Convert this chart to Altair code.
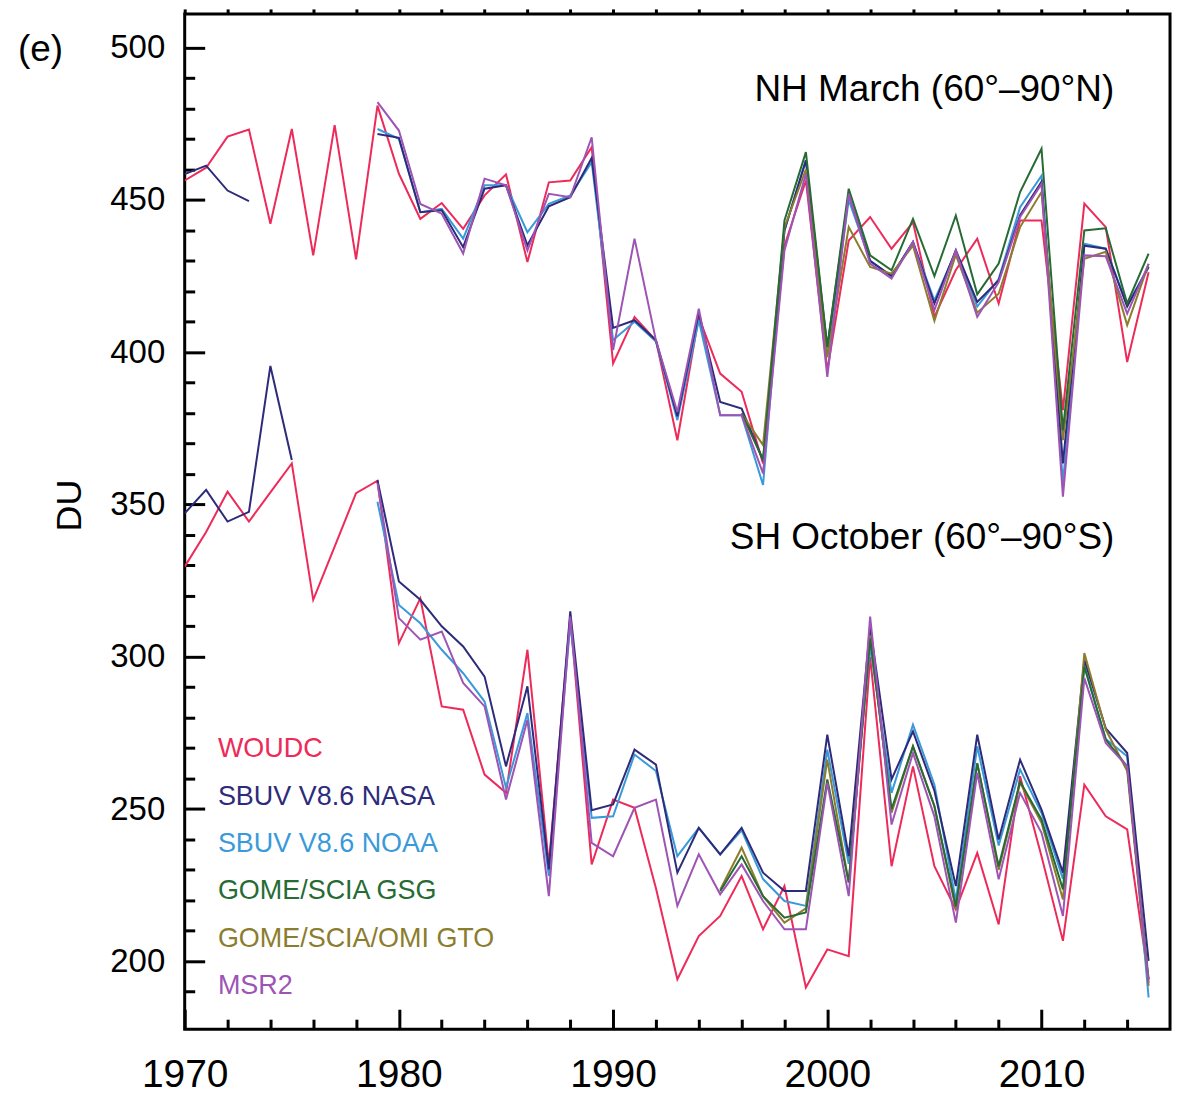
import altair as alt
import pandas as pd

# ---------------- data ----------------
SERIES = ["WOUDC", "SBUV V8.6 NASA", "SBUV V8.6 NOAA", "GOME/SCIA GSG",
          "GOME/SCIA/OMI GTO", "MSR2"]
COLORS = ["#ee2a5a", "#2e2b7a", "#3a9ad9", "#266b34", "#8c7d2e", "#9d54b4"]

# NH March (60-90N)
woudc_nh_start = 1970
woudc_nh = [456.4, 460.6, 470.8, 473.1, 442.2, 473.3, 431.8, 474.6, 430.5, 481.0,
            458.6, 443.8, 449.0, 440.5, 451.5, 458.4, 429.6, 455.8, 456.4, 467.3,
            396.3, 411.6, 403.9, 371.1, 411.6, 393.0, 387.0, 363.5, 435.0, 456.4,
            394.0, 436.7, 444.4, 434.0, 442.7, 411.6, 427.0, 437.3, 416.0, 443.3,
            443.3, 381.0, 448.8, 441.1, 396.8, 426.3]
nasa_nh_early_start = 1970
nasa_nh_early = [458.5, 461.3, 453.1, 449.6]
nasa_nh_start = 1979
nasa_nh = [471.7, 470.4, 446.0, 446.6, 434.5, 453.7, 454.8, 435.1, 447.9, 450.9, 463.8,
           408.0, 410.5, 403.9, 379.0, 413.0, 383.7, 381.5, 364.6, 440.0, 463.0,
           401.7, 452.0, 430.0, 425.0, 436.2, 416.0, 433.5, 416.5, 423.6, 445.0,
           456.0, 363.5, 435.0, 434.0, 415.0, 428.0]
noaa_nh_start = 1979
noaa_nh = [473.3, 470.1, 446.0, 447.1, 437.3, 454.8, 454.8, 439.4, 448.7, 451.5, 462.4,
           404.0, 410.0, 403.5, 377.7, 410.5, 379.3, 379.3, 356.4, 440.0, 463.0,
           398.4, 450.0, 430.0, 425.0, 436.2, 417.0, 433.0, 415.0, 424.0, 447.6,
           458.0, 357.0, 435.6, 434.0, 415.5, 428.0]
gsg_nh_start = 1996
gsg_nh = [379.9, 364.6, 443.3, 465.7, 401.7, 453.7, 431.8, 426.9, 443.8, 425.0,
          444.9, 419.0, 429.1, 452.6, 466.8, 374.4, 440.0, 440.7, 416.0, 432.4]
gto_nh_start = 1996
gto_nh = [379.9, 369.5, 441.0, 460.0, 398.4, 441.1, 428.0, 425.8, 435.0, 410.3,
          432.0, 413.0, 419.2, 441.1, 452.6, 371.1, 430.7, 433.0, 408.9, 429.0]
msr2_nh_start = 1979
msr2_nh = [482.1, 472.8, 448.7, 445.5, 432.4, 457.0, 454.8, 433.4, 452.0, 450.9, 470.6,
           400.7, 437.3, 403.9, 380.4, 414.3, 379.3, 379.3, 360.2, 433.4, 458.6,
           391.9, 452.0, 429.1, 424.2, 436.2, 413.8, 433.4, 411.6, 423.0, 444.4,
           455.3, 352.6, 431.8, 431.5, 412.7, 429.0]

# SH October (60-90S)
woudc_sh_start = 1970
woudc_sh = [329.6, 341.0, 354.2, 344.4, 354.0, 363.5, 318.7, 336.2, 353.7, 357.8,
            304.5, 319.2, 283.7, 282.6, 261.3, 255.3, 302.3, 231.8, 313.0, 231.8,
            253.1, 250.4, 224.0, 194.1, 208.3, 214.9, 228.0, 210.5, 224.7, 191.4,
            203.9, 201.7, 300.0, 231.2, 264.0, 231.2, 217.0, 235.6, 212.1, 260.8,
            234.5, 206.7, 258.0, 247.6, 243.3, 194.1]
nasa_sh_early_start = 1970
nasa_sh_early = [347.1, 354.8, 344.4, 347.6, 395.5, 364.6]
nasa_sh_start = 1979
nasa_sh = [358.0, 324.7, 318.7, 310.0, 303.4, 293.5, 264.0, 290.3, 230.2, 314.9, 249.6,
           251.5, 269.5, 264.6, 229.1, 243.8, 235.1, 243.8, 229.1, 223.1, 223.1,
           274.4, 234.5, 310.0, 259.7, 275.5, 256.0, 224.7, 274.4, 240.0, 266.2,
           249.8, 229.1, 299.0, 276.5, 268.4, 200.1]
noaa_sh_start = 1979
noaa_sh = [350.9, 317.0, 311.0, 302.3, 294.6, 285.3, 257.0, 281.5, 228.0, 311.0, 247.1,
           247.6, 267.9, 262.5, 234.5, 243.8, 235.1, 243.0, 227.0, 219.8, 218.2,
           269.5, 232.0, 303.4, 255.3, 277.7, 258.0, 220.0, 270.6, 238.0, 263.0,
           248.7, 227.0, 297.0, 273.0, 267.3, 188.1]
gsg_sh_start = 1995
gsg_sh = [223.0, 234.5, 221.4, 214.3, 216.0, 259.7, 226.0, 306.0, 250.0, 270.6, 251.0,
          218.0, 265.0, 231.2, 259.0, 246.6, 223.6, 296.8, 272.8, 264.0, 194.0]
gto_sh_start = 1995
gto_sh = [223.5, 237.3, 221.4, 212.7, 217.4, 266.2, 225.8, 307.0, 248.8, 270.6, 250.9,
          217.0, 265.1, 230.0, 258.6, 245.5, 220.3, 301.2, 276.1, 262.5, 191.9]
msr2_sh_start = 1979
msr2_sh = [357.0, 312.7, 305.6, 308.3, 291.4, 283.7, 253.1, 279.3, 221.4, 313.2, 238.9,
           234.5, 250.4, 253.1, 218.2, 235.1, 222.0, 231.8, 219.8, 210.5, 210.5,
           258.6, 221.4, 313.2, 244.9, 268.4, 247.6, 212.7, 261.9, 226.9, 255.3,
           242.2, 214.9, 293.0, 271.7, 264.0, 193.0]

X_MAJOR = [1970, 1980, 1990, 2000, 2010]
X_MINOR = [1972, 1974, 1976, 1978, 1982, 1984, 1986, 1988, 1992, 1994, 1996, 1998,
           2002, 2004, 2006, 2008, 2012, 2014]
Y_MAJOR = [200, 250, 300, 350, 400, 450, 500]
Y_MINOR = [190, 210, 220, 230, 240, 260, 270, 280, 290, 310, 320, 330, 340, 360, 370,
           380, 390, 410, 420, 430, 440, 460, 470, 480, 490]

PANEL_TITLES = ["NH March (60°–90°N)", "SH October (60°–90°S)"]
PANEL_TITLE_YEAR = [2013.4, 2013.4]
PANEL_TITLE_VALUE = [482.6, 335.4]

LEGEND_YEAR = 1971.55
LEGEND_TOP = 267.0
LEGEND_STEP = 15.55

# ---------------- build table ----------------
rows = []


def add(series, region, seg, start, values):
    for i, v in enumerate(values):
        rows.append({"series": series, "key": f"{series}|{region}|{seg}",
                     "year": start + i, "value": v})


# drawing order (first drawn = bottom)
add("WOUDC", "NH", 0, woudc_nh_start, woudc_nh)
add("WOUDC", "SH", 0, woudc_sh_start, woudc_sh)
add("SBUV V8.6 NOAA", "NH", 0, noaa_nh_start, noaa_nh)
add("SBUV V8.6 NOAA", "SH", 0, noaa_sh_start, noaa_sh)
add("SBUV V8.6 NASA", "NH", 0, nasa_nh_early_start, nasa_nh_early)
add("SBUV V8.6 NASA", "NH", 1, nasa_nh_start, nasa_nh)
add("SBUV V8.6 NASA", "SH", 0, nasa_sh_early_start, nasa_sh_early)
add("SBUV V8.6 NASA", "SH", 1, nasa_sh_start, nasa_sh)
add("GOME/SCIA/OMI GTO", "NH", 0, gto_nh_start, gto_nh)
add("GOME/SCIA/OMI GTO", "SH", 0, gto_sh_start, gto_sh)
add("GOME/SCIA GSG", "NH", 0, gsg_nh_start, gsg_nh)
add("GOME/SCIA GSG", "SH", 0, gsg_sh_start, gsg_sh)
add("MSR2", "NH", 0, msr2_nh_start, msr2_nh)
add("MSR2", "SH", 0, msr2_sh_start, msr2_sh)
df = pd.DataFrame(rows)

legend_df = pd.DataFrame({
    "series": SERIES,
    "year": [LEGEND_YEAR] * len(SERIES),
    "value": [LEGEND_TOP - i * LEGEND_STEP for i in range(len(SERIES))],
})
titles_df = pd.DataFrame({"text": PANEL_TITLES, "year": PANEL_TITLE_YEAR,
                          "value": PANEL_TITLE_VALUE})
tag_df = pd.DataFrame({"text": ["(e)"]})

# ---------------- chart ----------------
FONT = "Liberation Sans"
x_scale = alt.Scale(domain=[1970, 2016], nice=False, zero=False)
y_scale = alt.Scale(domain=[177.7, 511.1], nice=False, zero=False)
color_scale = alt.Scale(domain=SERIES, range=COLORS)

lines = alt.Chart(df).mark_line(strokeWidth=2, clip=True).encode(
    x=alt.X("year:Q", scale=x_scale, axis=alt.Axis(
        orient="bottom", values=X_MAJOR, format="d", tickSize=20, offset=-20,
        domain=False, grid=False, labelFontSize=39, labelFont=FONT,
        labelPadding=26, labelColor="black", tickColor="black", tickWidth=3,
        labelFlush=False, title=None)),
    y=alt.Y("value:Q", scale=y_scale, axis=alt.Axis(
        orient="left", values=Y_MAJOR, tickSize=20, offset=-20, domain=False,
        grid=False, labelFontSize=33, labelFont=FONT, labelPadding=20,
        labelColor="black", tickColor="black", tickWidth=3, title="DU",
        titleFontSize=36, titleFont=FONT, titleFontWeight="normal",
        titleColor="black", titleX=-135, titleY=492, titleAngle=270,
        titleBaseline="middle", titleAlign="center")),
    color=alt.Color("series:N", scale=color_scale, legend=None),
    detail="key:N",
)

minor = alt.Chart(df).mark_line(opacity=0).encode(
    x=alt.X("year:Q", scale=x_scale, axis=alt.Axis(
        orient="bottom", values=X_MINOR, tickSize=10, offset=-10, domain=False,
        grid=False, labels=False, tickColor="black", tickWidth=3, title=None)),
    y=alt.Y("value:Q", scale=y_scale, axis=alt.Axis(
        orient="left", values=Y_MINOR, tickSize=10, offset=-10, domain=False,
        grid=False, labels=False, tickColor="black", tickWidth=3, title=None)),
    detail="key:N",
)

top = alt.Chart(df).mark_line(opacity=0).encode(
    x=alt.X("year:Q", scale=x_scale, axis=alt.Axis(
        orient="top", values=sorted(X_MAJOR + X_MINOR), tickSize=5, domain=False,
        grid=False, labels=False, tickColor="black", tickWidth=3, title=None)),
    y=alt.Y("value:Q", scale=y_scale, axis=None),
    detail="key:N",
)

titles = alt.Chart(titles_df).mark_text(
    align="right", baseline="alphabetic", fontSize=37, font=FONT, color="black"
).encode(
    x=alt.X("year:Q", scale=x_scale, axis=None),
    y=alt.Y("value:Q", scale=y_scale, axis=None),
    text="text:N",
)

legend = alt.Chart(legend_df).mark_text(
    align="left", baseline="alphabetic", fontSize=27, font=FONT
).encode(
    x=alt.X("year:Q", scale=x_scale, axis=None),
    y=alt.Y("value:Q", scale=y_scale, axis=None),
    text="series:N",
    color=alt.Color("series:N", scale=color_scale, legend=None),
)

tag = alt.Chart(tag_df).mark_text(
    align="left", baseline="alphabetic", fontSize=37, font=FONT, color="black"
).encode(
    x=alt.value(-167),
    y=alt.value(47),
    text="text:N",
)

chart = alt.layer(lines, minor, top, titles, legend, tag).resolve_axis(
    x="independent", y="independent"
).properties(
    width=987,
    height=1017,
    autosize=alt.AutoSizeParams(type="none"),
    padding={"left": 177, "top": 5, "right": 15, "bottom": 67},
    background="white",
).configure_view(
    stroke="black", strokeWidth=3
)

chart.save("out.html", embed_options={"renderer": "svg", "actions": False})
